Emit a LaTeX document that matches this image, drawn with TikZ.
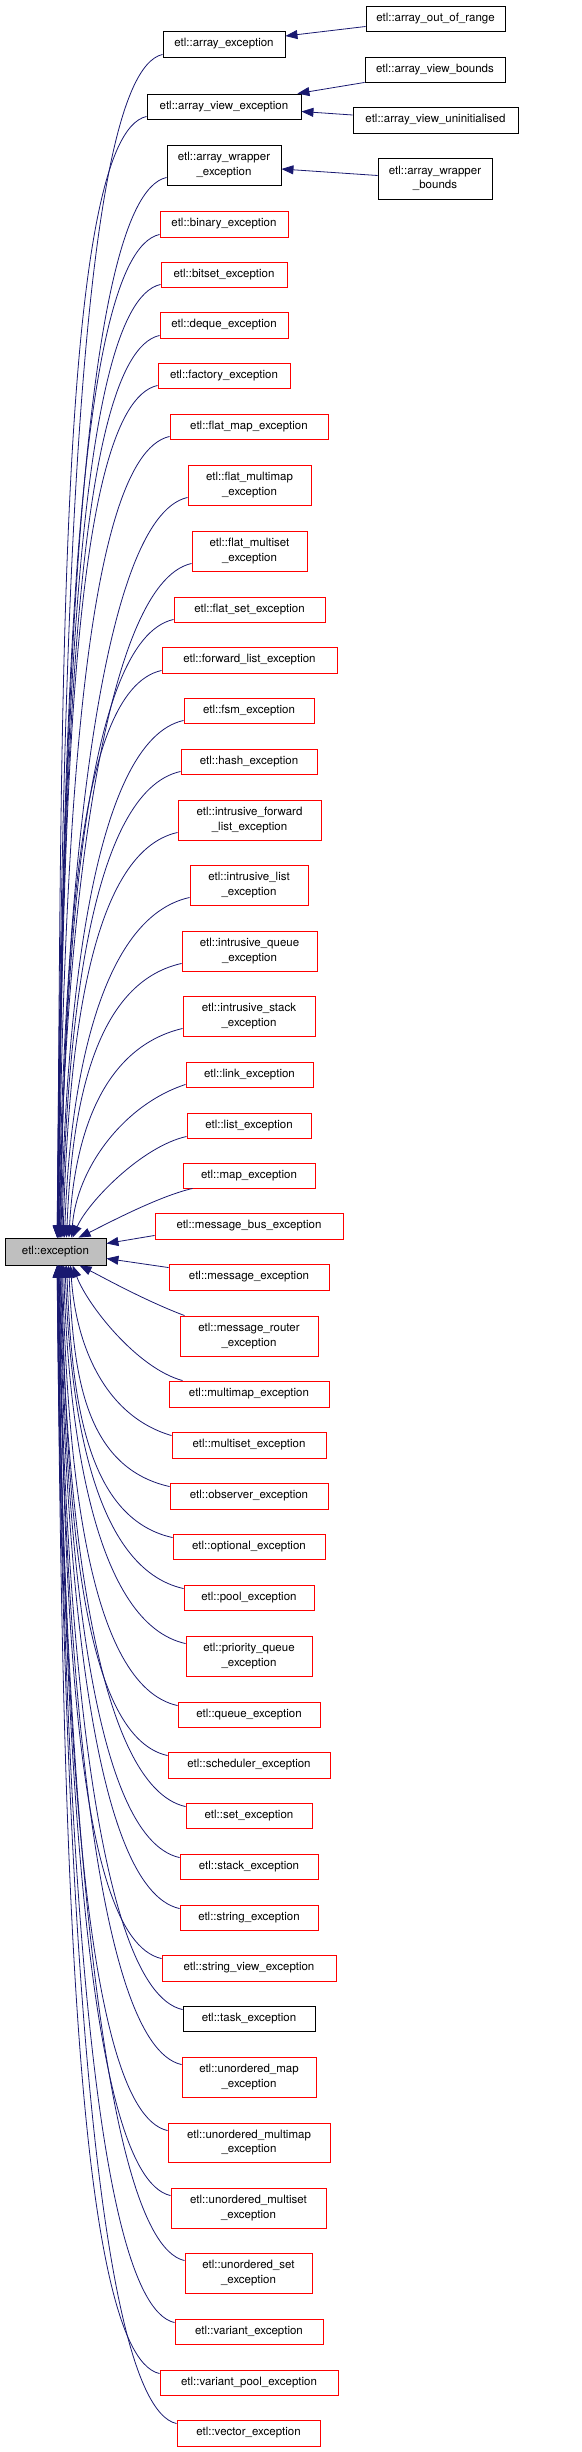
\documentclass[tikz,border=0pt]{standalone}
\usepackage{fontspec}
\setmainfont{TeX Gyre Heros}
\usetikzlibrary{arrows.meta}
\definecolor{edgeblue}{RGB}{25,25,112}
\definecolor{excgray}{RGB}{191,191,191}
\definecolor{boxred}{RGB}{255,0,0}
\newcommand\fs{\fontsize{11.5}{14.5}\selectfont}
\newcommand\nd[7]{\node[#1, minimum width=#5pt-#4pt, minimum height=#7pt-#6pt] (#2) at ({(#4+#5)/2},{(#6+#7)/2}) {#3};}
\newcommand\upE[4]{\draw[edge] ([yshift=#2pt]#1.south west) .. controls +({-min(90,0.4*#4)},20) and +(5,{-0.45*#4}) .. ([xshift=#3pt]exc.north west);}
\newcommand\dnE[4]{\draw[edge] ([yshift=-#2pt]#1.north west) .. controls +({-min(90,0.4*#4)},-20) and +(5,{0.45*#4}) .. ([xshift=#3pt]exc.south west);}
\tikzset{
  base/.style={draw, rectangle, inner sep=0pt, font=\fs, align=center, line width=0.9pt, fill=white},
  redbox/.style={base, draw=boxred},
  blackbox/.style={base, draw=black},
  excbox/.style={base, draw=black, fill=excgray},
  edge/.style={draw=edgeblue, line width=0.8pt, -{Triangle[length=12pt,width=9pt]}}
}
\begin{document}
\begin{tikzpicture}[x=1pt,y=-1pt]
\useasboundingbox (0,0) rectangle (581,2452);
% root
\nd{excbox}{exc}{etl::exception}{5}{106}{1238}{1265}
% right column
\nd{blackbox}{r1}{etl::array\_out\_of\_range}{366}{505}{6}{31}
\nd{blackbox}{r2}{etl::array\_view\_bounds}{365}{505}{57}{82}
\nd{blackbox}{r3}{etl::array\_view\_uninitialised}{353}{518}{107}{133}
\nd{blackbox}{r4}{etl::array\_wrapper\\\_bounds}{378}{492}{158}{199}
% middle column
\nd{blackbox}{c1}{etl::array\_exception}{163}{285}{31}{57}
\nd{blackbox}{c2}{etl::array\_view\_exception}{147}{301}{94}{119}
\nd{blackbox}{c3}{etl::array\_wrapper\\\_exception}{167}{281}{145}{185}
\nd{redbox}{c4}{etl::binary\_exception}{160}{288}{211}{237}
\nd{redbox}{c5}{etl::bitset\_exception}{161}{287}{262}{287}
\nd{redbox}{c6}{etl::deque\_exception}{160}{288}{312}{338}
\nd{redbox}{c7}{etl::factory\_exception}{158}{290}{363}{388}
\nd{redbox}{c8}{etl::flat\_map\_exception}{170}{328}{414}{439}
\nd{redbox}{c9}{etl::flat\_multimap\\\_exception}{188}{311}{465}{505}
\nd{redbox}{c10}{etl::flat\_multiset\\\_exception}{192}{307}{531}{571}
\nd{redbox}{c11}{etl::flat\_set\_exception}{174}{325}{597}{622}
\nd{redbox}{c12}{etl::forward\_list\_exception}{162}{337}{647}{673}
\nd{redbox}{c13}{etl::fsm\_exception}{184}{314}{698}{723}
\nd{redbox}{c14}{etl::hash\_exception}{181}{317}{749}{774}
\nd{redbox}{c15}{etl::intrusive\_forward\\\_list\_exception}{178}{321}{800}{840}
\nd{redbox}{c16}{etl::intrusive\_list\\\_exception}{190}{308}{865}{905}
\nd{redbox}{c17}{etl::intrusive\_queue\\\_exception}{182}{317}{931}{971}
\nd{redbox}{c18}{etl::intrusive\_stack\\\_exception}{183}{315}{996}{1036}
\nd{redbox}{c19}{etl::link\_exception}{186}{313}{1062}{1087}
\nd{redbox}{c20}{etl::list\_exception}{187}{311}{1113}{1138}
\nd{redbox}{c21}{etl::map\_exception}{183}{315}{1163}{1188}
\nd{redbox}{c22}{etl::message\_bus\_exception}{155}{343}{1213}{1239}
\nd{redbox}{c23}{etl::message\_exception}{169}{329}{1264}{1290}
\nd{redbox}{c24}{etl::message\_router\\\_exception}{180}{318}{1316}{1356}
\nd{redbox}{c25}{etl::multimap\_exception}{169}{329}{1381}{1407}
\nd{redbox}{c26}{etl::multiset\_exception}{172}{326}{1432}{1458}
\nd{redbox}{c27}{etl::observer\_exception}{170}{328}{1483}{1509}
\nd{redbox}{c28}{etl::optional\_exception}{173}{325}{1534}{1559}
\nd{redbox}{c29}{etl::pool\_exception}{184}{314}{1585}{1610}
\nd{redbox}{c30}{etl::priority\_queue\\\_exception}{186}{312}{1636}{1676}
\nd{redbox}{c31}{etl::queue\_exception}{178}{320}{1702}{1727}
\nd{redbox}{c32}{etl::scheduler\_exception}{168}{330}{1752}{1778}
\nd{redbox}{c33}{etl::set\_exception}{186}{312}{1803}{1828}
\nd{redbox}{c34}{etl::stack\_exception}{180}{318}{1854}{1879}
\nd{redbox}{c35}{etl::string\_exception}{180}{318}{1905}{1930}
\nd{redbox}{c36}{etl::string\_view\_exception}{162}{336}{1955}{1981}
\nd{blackbox}{c37}{etl::task\_exception}{183}{315}{2006}{2031}
\nd{redbox}{c38}{etl::unordered\_map\\\_exception}{182}{316}{2057}{2097}
\nd{redbox}{c39}{etl::unordered\_multimap\\\_exception}{168}{330}{2123}{2162}
\nd{redbox}{c40}{etl::unordered\_multiset\\\_exception}{171}{326}{2188}{2228}
\nd{redbox}{c41}{etl::unordered\_set\\\_exception}{185}{312}{2253}{2293}
\nd{redbox}{c42}{etl::variant\_exception}{175}{323}{2319}{2344}
\nd{redbox}{c43}{etl::variant\_pool\_exception}{160}{338}{2370}{2395}
\nd{redbox}{c44}{etl::vector\_exception}{177}{320}{2420}{2446}
% right-column edges
\draw[edge] ([yshift=-8pt]r1.west) -- ([yshift=8pt]c1.east);
\draw[edge] (r2.south west) -- ([xshift=-4pt]c2.north east);
\draw[edge] ([yshift=5pt]r3.west) -- ([yshift=-5pt]c2.east);
\draw[edge] ([yshift=3pt]r4.west) -- ([yshift=-4pt]c3.east);
% edges from above
\upE{c1}{3}{52.5}{1184}
\upE{c2}{3}{52.6}{1122}
\upE{c3}{8}{52.7}{1061}
\upE{c4}{3}{52.9}{1004}
\upE{c5}{3}{53}{954}
\upE{c6}{3}{53.2}{903}
\upE{c7}{3}{53.5}{853}
\upE{c8}{3}{53.7}{802}
\upE{c9}{8}{54.1}{741}
\upE{c10}{8}{54.6}{675}
\upE{c11}{3}{55.2}{619}
\upE{c12}{3}{55.8}{568}
\upE{c13}{3}{56.4}{518}
\upE{c14}{3}{57.3}{467}
\upE{c15}{8}{58.5}{406}
\upE{c16}{8}{60}{341}
\upE{c17}{8}{62}{275}
\upE{c18}{8}{64.4}{210}
\upE{c19}{3}{67}{154}
\draw[edge] ([yshift=2pt]c20.south west) .. controls +(-45,10) and +(15,-35) .. ([xshift=68pt]exc.north west);
\draw[edge] ([xshift=10pt]c21.south west) .. controls +(-35,8) and +(25,-12) .. ([xshift=74pt]exc.north west);
\draw[edge] ([yshift=4pt]c22.south west) -- ([yshift=8pt]exc.east);
\draw[edge] ([yshift=-4pt]c23.north west) -- ([yshift=-7pt]exc.east);
\draw[edge] ([xshift=5pt]c24.north west) .. controls +(-40,-15) and +(20,10) .. ([xshift=75pt]exc.south west);
\draw[edge] ([xshift=14pt]c25.north west) .. controls +(-45,-12) and +(15,40) .. ([xshift=68pt]exc.south west);
% edges from below
\dnE{c26}{4}{66}{171}
\dnE{c27}{4}{64}{222}
\dnE{c28}{4}{62}{273}
\dnE{c29}{4}{60.5}{324}
\dnE{c30}{8}{59}{379}
\dnE{c31}{4}{57.8}{441}
\dnE{c32}{4}{56.9}{491}
\dnE{c33}{4}{56.1}{542}
\dnE{c34}{4}{55.5}{593}
\dnE{c35}{4}{54.9}{644}
\dnE{c36}{4}{54.5}{694}
\dnE{c37}{4}{54.1}{745}
\dnE{c38}{8}{53.7}{800}
\dnE{c39}{8}{53.4}{866}
\dnE{c40}{8}{53.1}{931}
\dnE{c41}{8}{52.9}{996}
\dnE{c42}{4}{52.7}{1058}
\dnE{c43}{4}{52.6}{1109}
\dnE{c44}{4}{52.5}{1159}
\end{tikzpicture}
\end{document}
